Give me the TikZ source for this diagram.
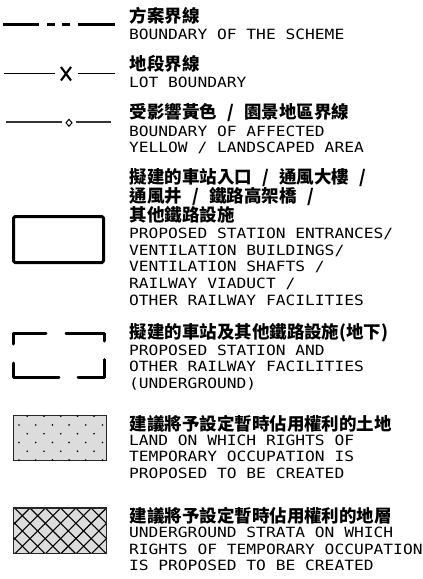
\documentclass[tikz,border=0pt]{standalone}
\usepackage{fontspec}
\newfontfamily\zh{Noto Sans CJK TC}
\newfontfamily\cad[FakeStretch=1.153]{DejaVu Sans Mono}
\newcommand\zsl{\makebox[27.5pt]{/}}
\definecolor{hatchgray}{HTML}{DCDCDC}
\tikzset{
  zhtxt/.style={anchor=base west, inner sep=0pt, outer sep=0pt, font=\zh\bfseries\fontsize{17.5}{18}\selectfont},
  entxt/.style={anchor=base west, inner sep=0pt, outer sep=0pt, font=\cad\fontsize{14.1}{16}\selectfont},
  thickline/.style={line width=3pt, line cap=butt},
  symbox/.style={line width=3pt, line join=round, line cap=round},
  fillbox/.style={fill=hatchgray, draw=black!85, line width=1.1pt}
}
\begin{document}
\begin{tikzpicture}[x=1pt,y=-1pt]
\useasboundingbox (0,0) rectangle (423,579);
\fill[white] (0,0) rectangle (423,579);

% --- symbol 1: boundary of the scheme
\draw[thickline, dash pattern=on 36pt off 8pt on 8pt off 7pt on 8pt off 8pt on 40pt] (3,24.5) -- (115,24.5);

% --- symbol 2: lot boundary
\draw[line width=1.6pt] (4,73.5) -- (55,73.5);
\draw[line width=1.6pt] (78,73.5) -- (115,73.5);
\draw[line width=2.1pt] (61,67) -- (71,80.5);
\draw[line width=2.1pt] (71,67) -- (61,80.5);

% --- symbol 3: affected yellow / landscaped
\draw[line width=1.1pt, black!80] (6,122) -- (62,122);
\draw[line width=1.1pt, black!80] (76,122) -- (111,122);
\draw[line width=1pt] (69,119.3) -- (72,122.8) -- (69,126.3) -- (66,122.8) -- cycle;

% --- symbol 4: proposed station entrances (rectangle)
\draw[symbox, rounded corners=1.5pt] (13.5,216.5) rectangle (103.5,262.5);

% --- symbol 5: underground (broken rectangle)
\draw[symbox] (13.5,344) -- (13.5,333.5) -- (46,333.5);
\draw[symbox] (66,333.5) -- (104.5,333.5) -- (104.5,341);
\draw[symbox] (13.5,363) -- (13.5,377.5) -- (59,377.5);
\draw[symbox] (78,377.5) -- (104.5,377.5) -- (104.5,359.5);

% --- symbol 6: dotted land
\draw[fillbox] (13.5,415.5) rectangle (106.5,460.5);
\foreach \r in {0,...,5} {
  \pgfmathsetmacro{\yy}{416.2+8.75*\r}
  \pgfmathsetmacro{\xo}{mod(\r,2)==0 ? 27.3 : 19}
  \foreach \c in {0,...,5} {
    \pgfmathsetmacro{\xx}{\xo+16.7*\c}
    \ifdim \xx pt<107pt
      \fill (\xx,\yy) circle (0.9pt);
    \fi
  }
}

% --- symbol 7: cross-hatched strata
\fill[hatchgray] (13.5,508) rectangle (106.5,553.7);
\begin{scope}
  \clip (13.5,508) rectangle (106.5,553.7);
  \foreach \k in {-4,...,10} {
    \pgfmathsetmacro{\px}{14.7+15.3*\k}
    \draw[line width=1.1pt] (\px-60,448) -- (\px+60,568);
    \draw[line width=1.1pt] (\px+60,448) -- (\px-60,568);
  }
\end{scope}
\draw[draw=black!85, line width=1.1pt] (13.5,508) rectangle (106.5,553.7);

% --- texts
\node[zhtxt] (t1z) at (129.5,22.8) {方案界線};
\node[entxt] (t1e) at (129,39.3) {BOUNDARY OF THE SCHEME};

\node[zhtxt] (t2z) at (129.5,70.5) {地段界線};
\node[entxt] (t2e) at (129,87.3) {LOT BOUNDARY};

\node[zhtxt] (t3z) at (129.5,118.8) {受影響黃色\zsl 園景地區界線};
\node[entxt] (t3e1) at (129,136.3) {BOUNDARY OF AFFECTED};
\node[entxt] (t3e2) at (129,152.7) {YELLOW / LANDSCAPED AREA};

\node[zhtxt] (t4z1) at (129.5,183.8) {擬建的車站入口\zsl 通風大樓\zsl};
\node[zhtxt] (t4z2) at (129.5,202.5) {通風井\zsl 鐵路高架橋\zsl};
\node[zhtxt] (t4z3) at (129.5,221.2) {其他鐵路設施};
\node[entxt] (t4e1) at (129,238.3) {PROPOSED STATION ENTRANCES/};
\node[entxt] (t4e2) at (129,255) {VENTILATION BUILDINGS/};
\node[entxt] (t4e3) at (129,271.7) {VENTILATION SHAFTS /};
\node[entxt] (t4e4) at (129,288.3) {RAILWAY VIADUCT /};
\node[entxt] (t4e5) at (129,305) {OTHER RAILWAY FACILITIES};

\node[zhtxt] (t5z) at (129.5,338.8) {擬建的車站及其他鐵路設施(地下)};
\node[entxt] (t5e1) at (129,355) {PROPOSED STATION AND};
\node[entxt] (t5e2) at (129,371.7) {OTHER RAILWAY FACILITIES};
\node[entxt] (t5e3) at (129,388) {(UNDERGROUND)};

\node[zhtxt] (t6z) at (129.5,430.5) {建議將予設定暫時佔用權利的土地};
\node[entxt] (t6e1) at (129,445) {LAND ON WHICH RIGHTS OF};
\node[entxt] (t6e2) at (129,461.7) {TEMPORARY OCCUPATION IS};
\node[entxt] (t6e3) at (129,478.3) {PROPOSED TO BE CREATED};

\node[zhtxt] (t7z) at (129.5,522) {建議將予設定暫時佔用權利的地層};
\node[entxt] (t7e1) at (129,537.3) {UNDERGROUND STRATA ON WHICH};
\node[entxt] (t7e2) at (129,554) {RIGHTS OF TEMPORARY OCCUPATION};
\node[entxt] (t7e3) at (129,570.7) {IS PROPOSED TO BE CREATED};
\end{tikzpicture}
\end{document}
